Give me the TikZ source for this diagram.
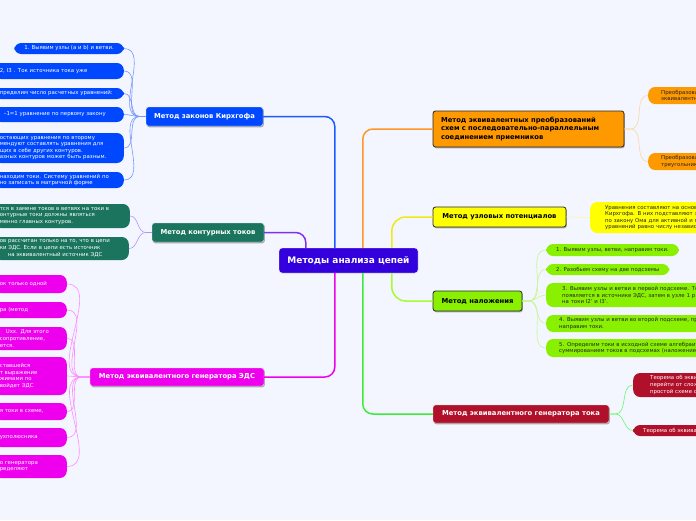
\documentclass[tikz,border=0pt]{standalone}
\usepackage{fontspec}
\setmainfont{DejaVu Sans}
\usepackage{tikz}
\usetikzlibrary{shadows}
\definecolor{mapbg}{RGB}{243,246,254}
\definecolor{rootc}{RGB}{51,0,221}
\definecolor{kirc}{RGB}{0,72,255}
\definecolor{kirw}{RGB}{30,90,255}
\definecolor{kirl}{RGB}{120,150,255}
\definecolor{konc}{RGB}{27,117,94}
\definecolor{konw}{RGB}{128,48,240}
\definecolor{konl}{RGB}{180,145,255}
\definecolor{emfc}{RGB}{238,0,238}
\definecolor{emfl}{RGB}{255,140,255}
\definecolor{eqc}{RGB}{255,153,0}
\definecolor{eqw}{RGB}{255,150,40}
\definecolor{eql}{RGB}{255,214,160}
\definecolor{nodc}{RGB}{255,255,0}
\definecolor{nodw}{RGB}{236,236,20}
\definecolor{nodl}{RGB}{255,245,170}
\definecolor{supc}{RGB}{136,240,0}
\definecolor{supw}{RGB}{170,250,50}
\definecolor{supl}{RGB}{200,245,150}
\definecolor{curc}{RGB}{176,16,42}
\definecolor{curw}{RGB}{60,235,60}
\definecolor{curl}{RGB}{110,245,110}
\definecolor{darkline}{RGB}{40,40,40}
\tikzset{
  rootbox/.style={fill=rootc, draw=white, thin, rounded corners=3pt, text=white,
                  font=\bfseries\fontsize{9}{11}\selectfont,
                  minimum width=139pt, minimum height=25pt},
  topicbox/.style={rounded corners=2.5pt, align=center, inner xsep=8pt, inner ysep=3pt,
                   font=\bfseries\fontsize{6.8}{8.3}\selectfont,
                   drop shadow={shadow xshift=0.8pt, shadow yshift=-1.3pt, fill=black, opacity=0.3}},
  lighttopic/.style={topicbox, draw=white!80!gray, thin, text=white},
  darktopic/.style={topicbox, draw=darkline, thick, text=black},
  leafbox/.style={rounded corners=7pt, align=left, inner xsep=6pt, inner ysep=2pt,
                  font=\fontsize{5.4}{6.6}\selectfont},
  branch/.style={line width=1.5pt, rounded corners=10pt},
  fan/.style={line width=0.6pt}
}

\begin{document}
\begin{tikzpicture}[x=1pt, y=-1pt]
  \fill[mapbg] (0,0) rectangle (696,520);
  \useasboundingbox (0,0) rectangle (696,520);
  \clip (0,0) rectangle (696,520);

  \node[rootbox] (root) at (348.5,260.5) {Методы анализа цепей};

  % left side
  \node[lighttopic, fill=kirc, minimum width=117pt, minimum height=19pt] (kir) at (204.5,116.5) {Метод законов Кирхгофа};
  \node[lighttopic, fill=konc, minimum width=112pt, minimum height=19pt] (kon) at (208,232.5) {Метод контурных токов};
  \node[lighttopic, fill=emfc, minimum width=174pt, minimum height=18pt] (emf) at (177,377) {Метод эквивалентного генератора ЭДС};

  \node[leafbox, fill=kirc, text=white, anchor=east, inner xsep=10pt, minimum height=11pt] (kir1) at (124,48.5) {1. Выявим узлы (a и b) и ветви.};
  \node[leafbox, fill=kirc, text=white, anchor=east, text width=118pt, minimum height=16pt] (kir2) at (124,71) {2, I3 . Ток источника тока уже};
  \node[leafbox, fill=kirc, text=white, anchor=east, text width=118pt, minimum height=11pt] (kir3) at (124,93.5) {пределим число расчетных уравнений:};
  \node[leafbox, fill=kirc, text=white, anchor=east, text width=118pt, minimum height=15pt] (kir4) at (124,114.5) {\hspace*{4pt}–1=1 уравнение по первому закону};
  \node[leafbox, fill=kirc, text=white, anchor=east, text width=118pt, minimum height=30pt] (kir5) at (124,148) {остающих уравнения по второму\\мендуют составлять уравнения для\\щих в себе других контуров.\\азных контуров может быть разным.};
  \node[leafbox, fill=kirc, text=white, anchor=east, text width=118pt, minimum height=16pt] (kir6) at (124,180) {находим токи. Систему уравнений по\\но записать в матричной форме};

  \node[leafbox, fill=konc, text=white, anchor=east, text width=124pt, minimum height=24pt] (kon1) at (130,216) {тся в замене токов в ветвях на токи в\\онтурные токи должны являться\\менно главных контуров.};
  \node[leafbox, fill=konc, text=white, anchor=east, text width=123pt, minimum height=23pt] (kon2) at (129,248.5) {ов рассчитан только на то, что в цепи\\ки ЭДС. Если в цепи есть источник\\\hspace*{8pt}на эквивалентный источник ЭДС};

  \node[leafbox, fill=emfc, text=white, anchor=east, text width=61pt, minimum height=18pt] (emf1) at (67,284) {ок только одной};
  \node[leafbox, fill=emfc, text=white, anchor=east, text width=61pt, minimum height=16pt] (emf2) at (67,310) {ра (метод};
  \node[leafbox, fill=emfc, text=white, anchor=east, text width=61pt, minimum height=23pt] (emf3) at (67,338.5) {\hspace*{6pt}Uxx. Для этого\\сопротивление,\\ется.};
  \node[leafbox, fill=emfc, text=white, anchor=east, text width=61pt, minimum height=38pt] (emf4) at (67,376) {ставшейся\\т выражение\\жимами по\\войдет ЭДС};
  \node[leafbox, fill=emfc, text=white, anchor=east, text width=61pt, minimum height=17pt] (emf5) at (67,411.5) {я токи в схеме,};
  \node[leafbox, fill=emfc, text=white, anchor=east, text width=61pt, minimum height=19pt] (emf6) at (67,437.5) {ухполюсника};
  \node[leafbox, fill=emfc, text=white, anchor=east, text width=61pt, minimum height=23pt] (emf7) at (67,466.5) {о генератора\\ределяют};

  % right side
  \node[darktopic, fill=eqc, align=left, text width=175pt, minimum height=36pt] (eq) at (528.5,129) {Метод эквивалентных преобразований\\схем с последовательно-параллельным\\соединением приемников};
  \node[darktopic, fill=nodc, minimum width=133pt, minimum height=20pt] (nod) at (499.5,217) {Метод узловых потенциалов};
  \node[darktopic, fill=supc, minimum width=89pt, minimum height=20pt] (sup) at (477.5,301) {Метод наложения};
  \node[lighttopic, fill=curc, minimum width=176pt, minimum height=18pt] (cur) at (521,414) {Метод эквивалентного генератора тока};

  \node[leafbox, fill=eqc, text=black!85, anchor=west, inner xsep=13pt, text width=100pt, minimum height=17pt] (eq1) at (648,95.5) {Преобразова\\эквивалентн};
  \node[leafbox, fill=eqc, text=black!85, anchor=west, inner xsep=13pt, text width=100pt, minimum height=17pt] (eq2) at (648,161.5) {Преобразова\\треугольник};

  \node[leafbox, fill=nodc, text=black!85, anchor=west, inner xsep=15pt, text width=130pt, minimum height=31pt] (nod1) at (590,217.5) {Уравнения составляют на основ\\Кирхгофа. В них подставляют з\\по закону Ома для активной и п\\уравнений равно числу независ};

  \node[leafbox, fill=supc, text=black!85, anchor=west, inner xsep=10pt, minimum height=12pt] (sup1) at (546,250) {1. Выявим узлы, ветви, направим токи.};
  \node[leafbox, fill=supc, text=black!85, anchor=west, inner xsep=10pt, minimum height=11pt] (sup2) at (546,269.5) {2. Разобьем схему на две подсхемы};
  \node[leafbox, fill=supc, text=black!85, anchor=west, inner xsep=16pt, text width=150pt, minimum height=24pt] (sup3) at (546,295) {3. Выявим узлы и ветви в первой подсхеме. То\\появляется в источнике ЭДС, затем в узле 1 р\\на токи I2' и I3'.};
  \node[leafbox, fill=supc, text=black!85, anchor=west, inner xsep=13pt, text width=150pt, minimum height=17pt] (sup4) at (546,323.5) {4. Выявим узлы и ветви во второй подсхеме, пр\\направим токи.};
  \node[leafbox, fill=supc, text=black!85, anchor=west, inner xsep=13pt, text width=150pt, minimum height=18pt] (sup5) at (546,348) {5. Определим токи в исходной схеме алгебраич\\суммированием токов в подсхемах (наложением};

  \node[leafbox, fill=curc, text=white, anchor=west, inner xsep=17pt, text width=100pt, minimum height=24pt] (cur1) at (633,385) {Теорема об экви\\перейти от слож\\простой схеме с};
  \node[leafbox, fill=curc, text=white, anchor=west, inner xsep=10pt, text width=100pt, minimum height=11pt] (cur2) at (633,430.5) {Теорема об эквива};

  % branches from the root
  \draw[branch, kirw] ([xshift=56pt]root.north west) |- (kir.east);
  \draw[branch, konw] ([xshift=27pt]root.north west) |- (kon.east);
  \draw[branch, emfc] ([xshift=56pt]root.south west) |- (emf.east);
  \draw[branch, eqw] ([xshift=84pt]root.north west) |- (eq.west);
  \draw[branch, curw] ([xshift=84pt]root.south west) |- (cur.west);
  \draw[branch, nodw, rounded corners=14pt] ([xshift=113pt]root.north west) |- (nod.west);
  \draw[branch, supw, rounded corners=14pt] ([xshift=113pt]root.south west) |- (sup.west);

  % leaves
  \foreach \i in {1,...,6}
    \draw[fan, kirl] (kir.west) -- ++(-6,0) to[out=180,in=0] (kir\i.east);
  \foreach \i in {1,2}
    \draw[fan, konl] (kon.west) -- ++(-6,0) to[out=180,in=0] (kon\i.east);
  \foreach \i in {1,...,7}
    \draw[fan, emfl] (emf.west) -- ++(-8,0) to[out=180,in=0] (emf\i.east);
  \foreach \i in {1,2}
    \draw[fan, eql] (eq.east) -- ++(6,0) to[out=0,in=180] (eq\i.west);
  \draw[fan, nodl] (nod.east) -- (nod1.west);
  \foreach \i in {1,...,5}
    \draw[fan, supl] (sup.east) -- ++(6,0) to[out=0,in=180] (sup\i.west);
  \foreach \i in {1,2}
    \draw[fan, curl] (cur.east) -- ++(6,0) to[out=0,in=180] (cur\i.west);
\end{tikzpicture}
\end{document}
